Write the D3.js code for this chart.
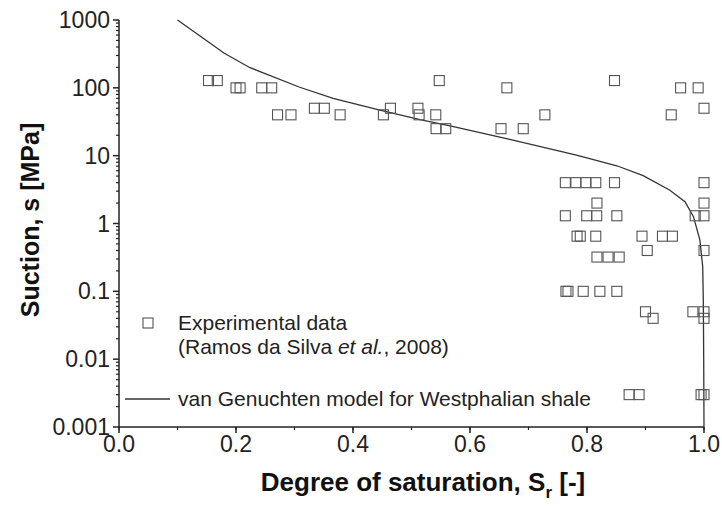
<!DOCTYPE html>
<html><head><meta charset="utf-8">
<script src="https://cdn.jsdelivr.net/npm/d3@7"></script>
<style>body{margin:0;background:#fff;} text{font-family:"Liberation Sans",Arial,Helvetica,sans-serif;}</style>
</head><body>
<svg id="c" width="722" height="506"></svg>
<script>
// Experimental data (Ramos da Silva et al., 2008): degree of saturation Sr and suction s [MPa]
const expSr = [0.153,0.168,0.200,0.207,0.244,0.261,0.271,0.294,0.334,0.351,0.378,0.452,0.464,0.511,0.513,0.5475,0.5415,0.542,0.5585,0.663,0.653,0.691,0.728,0.847,0.960,0.990,0.944,1.0,
  0.763,0.781,0.798,0.815,0.847,1.0,
  0.817,1.0,
  0.763,0.7995,0.8166,0.851,0.985,1.0,
  0.783,0.7885,0.815,0.894,0.929,0.946,
  0.903,1.0,
  0.817,0.836,0.855,
  0.764,0.7675,0.7935,0.822,0.851,
  0.900,0.981,1.0,
  0.913,1.0,
  0.872,0.889,0.995,1.0];
const expS = [128,128,100,100,100,100,40,40,50,50,40,40,50,50,40,128,40,25,25,100,25,25,40,128,100,100,40,50,
  4,4,4,4,4,4,
  2,2,
  1.3,1.3,1.3,1.3,1.3,1.3,
  0.65,0.65,0.65,0.65,0.65,0.65,
  0.4,0.4,
  0.32,0.32,0.32,
  0.1,0.1,0.1,0.1,0.1,
  0.05,0.05,0.05,
  0.04,0.04,
  0.003,0.003,0.003,0.003];
// van Genuchten model for Westphalian shale
const modelSr = [0.10,0.180,0.224,0.309,0.366,0.446,0.5145,0.566,0.668,0.782,0.851,0.896,0.941,0.9675,0.982,0.993,0.9978,0.9988,0.9995,1.0];
const modelS  = [1000,323,198,102,70,47,34,27.4,17.4,10.2,7.1,5.07,3.12,2.1,1.26,0.57,0.23,0.0745,0.01,0.001];
const xTicks = [0,0.2,0.4,0.6,0.8,1.0];
const xTickLabels = ["0.0","0.2","0.4","0.6","0.8","1.0"];
const yTicks = [0.001,0.01,0.1,1,10,100,1000];
const yTickLabels = ["0.001","0.01","0.1","1","10","100","1000"];

const svg = d3.select("#c");
const x = d3.scaleLinear().domain([0,1]).range([119,704]);
const y = d3.scaleLog().domain([0.001,1000]).range([427,20]);
const axisCol = "#222";

// x axis
const xMinor = d3.range(0,1.0001,0.1);
const gx = svg.append("g");
gx.append("line").attr("x1",x(0)).attr("x2",x(1)).attr("y1",y(0.001)).attr("y2",y(0.001)).attr("stroke",axisCol).attr("stroke-width",1.5);
gx.selectAll(".mi").data(xMinor).join("line").attr("x1",d=>x(d)).attr("x2",d=>x(d)).attr("y1",y(0.001)).attr("y2",y(0.001)+3).attr("stroke",axisCol).attr("stroke-width",1.2);
gx.selectAll(".ma").data(xTicks).join("line").attr("x1",d=>x(d)).attr("x2",d=>x(d)).attr("y1",y(0.001)).attr("y2",y(0.001)+6).attr("stroke",axisCol).attr("stroke-width",1.5);
gx.selectAll(".lb").data(xTicks).join("text").attr("x",d=>x(d)).attr("y",452).attr("text-anchor","middle")
  .attr("font-size",23).attr("fill","#222").text((d,i)=>xTickLabels[i]);

// y axis
const gy = svg.append("g");
gy.append("line").attr("x1",x(0)).attr("x2",x(0)).attr("y1",y(0.001)).attr("y2",y(1000)).attr("stroke",axisCol).attr("stroke-width",1.5);
const yMinor = [];
yTicks.slice(0,-1).forEach(t=>{for(let k=2;k<=9;k++) yMinor.push(t*k);});
gy.selectAll(".mi").data(yMinor).join("line").attr("x1",x(0)-3).attr("x2",x(0)).attr("y1",d=>y(d)).attr("y2",d=>y(d)).attr("stroke",axisCol).attr("stroke-width",1.2);
gy.selectAll(".ma").data(yTicks).join("line").attr("x1",x(0)-6).attr("x2",x(0)).attr("y1",d=>y(d)).attr("y2",d=>y(d)).attr("stroke",axisCol).attr("stroke-width",1.5);
gy.selectAll(".lb").data(yTicks).join("text").attr("x",x(0)-9).attr("y",d=>y(d)+8).attr("text-anchor","end")
  .attr("font-size",23).attr("fill","#222").text((d,i)=>yTickLabels[i]);

// titles
const xt = svg.append("text").attr("x",423).attr("y",491).attr("text-anchor","middle").attr("font-size",26).attr("font-weight","bold").attr("fill","#111");
xt.append("tspan").text("Degree of saturation, S");
xt.append("tspan").attr("font-size",17).attr("dy",7).text("r");
xt.append("tspan").attr("dy",-7).text(" [-]");
svg.append("text").attr("transform","translate(39,220) rotate(-90)").attr("text-anchor","middle").attr("font-size",25).attr("font-weight","bold").attr("fill","#111").text("Suction, s [MPa]");

// model curve
const line = d3.line().x(d=>x(d[0])).y(d=>y(d[1]));
svg.append("path").datum(modelSr.map((v,i)=>[v,modelS[i]])).attr("d",line).attr("fill","none").attr("stroke","#333").attr("stroke-width",1.3);

// experimental points
const sz = 10;
svg.selectAll(".pt").data(expSr.map((v,i)=>[v,expS[i]])).join("rect")
  .attr("x",d=>x(d[0])-sz/2).attr("y",d=>y(d[1])-sz/2).attr("width",sz).attr("height",sz)
  .attr("fill","none").attr("stroke","#555").attr("stroke-width",1.1);

// legend
svg.append("rect").attr("x",143).attr("y",318).attr("width",sz).attr("height",sz).attr("fill","none").attr("stroke","#555").attr("stroke-width",1.1);
svg.append("text").attr("x",178).attr("y",330).attr("font-size",21).attr("fill","#222").text("Experimental data");
const l2 = svg.append("text").attr("x",178).attr("y",354).attr("font-size",21).attr("fill","#222");
l2.append("tspan").text("(Ramos da Silva ");
l2.append("tspan").attr("font-style","italic").text("et al.");
l2.append("tspan").text(", 2008)");
svg.append("line").attr("x1",125).attr("x2",170).attr("y1",399).attr("y2",399).attr("stroke","#333").attr("stroke-width",1.3);
svg.append("text").attr("x",178).attr("y",406).attr("font-size",21).attr("fill","#222").text("van Genuchten model for Westphalian shale");
</script>
</body></html>
